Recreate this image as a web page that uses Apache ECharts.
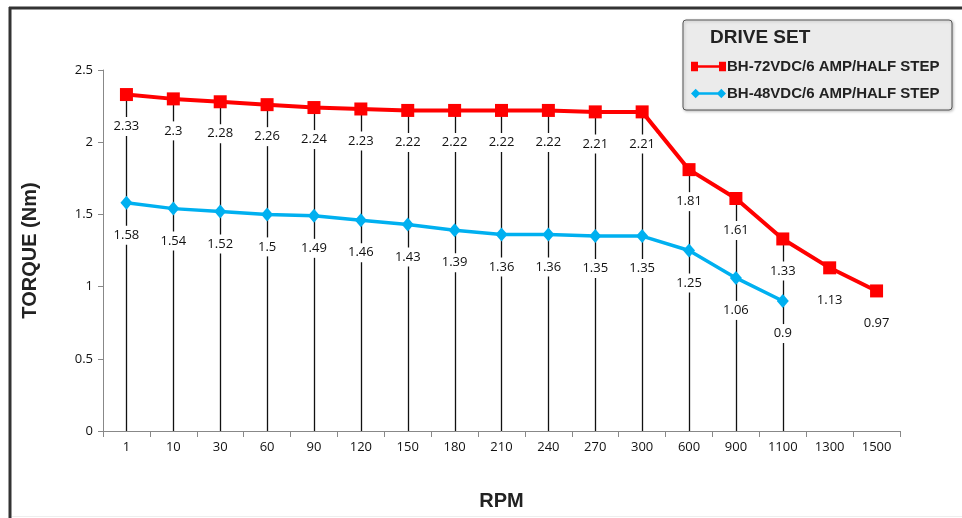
<!DOCTYPE html>
<html>
<head>
<meta charset="utf-8">
<script src="https://cdn.jsdelivr.net/npm/echarts@6/dist/echarts.min.js"></script>
<style>
html,body{margin:0;padding:0;background:#fff;}
#c{width:962px;height:518px;}
</style>
</head>
<body>
<div id="c"></div>
<script>
var categories = ['1','10','30','60','90','120','150','180','210','240','270','300','600','900','1100','1300','1500'];
var red72 = [2.33,2.3,2.28,2.26,2.24,2.23,2.22,2.22,2.22,2.22,2.21,2.21,1.81,1.61,1.33,1.13,0.97];
var blue48 = [1.58,1.54,1.52,1.5,1.49,1.46,1.43,1.39,1.36,1.36,1.35,1.35,1.25,1.06,0.9,null,null];
var yTicks = [0,0.5,1,1.5,2,2.5];
var seriesNames = ['BH-72VDC/6 AMP/HALF STEP','BH-48VDC/6 AMP/HALF STEP'];

var dropData = categories.map(function(c,i){
  if (red72[i] == null || blue48[i] == null) return [i, null];
  return [i, Math.max(red72[i], blue48[i])];
});

var numFont = '"Open Sans", "Noto Sans", sans-serif';
var chart = echarts.init(document.getElementById('c'));
chart.setOption({
  backgroundColor: '#ffffff',
  animation: false,
  grid: {left: 103, right: 62, top: 70, bottom: 87, containLabel: false, outerBoundsMode: 'none'},
  xAxis: {
    type: 'category',
    data: categories,
    boundaryGap: true,
    name: 'RPM',
    nameLocation: 'middle',
    nameGap: 60,
    nameTextStyle: {fontFamily: '"Liberation Sans", Arial, sans-serif', fontWeight: 'bold', fontSize: 20, color: '#222'},
    axisLine: {lineStyle: {color: '#888', width: 1}},
    axisTick: {show: true, alignWithLabel: false, length: 6, lineStyle: {color: '#888'}},
    axisLabel: {color: '#111', fontSize: 13, fontFamily: numFont, margin: 10}
  },
  yAxis: {
    type: 'value',
    min: 0, max: 2.5, interval: 0.5,
    name: 'TORQUE (Nm)',
    nameLocation: 'middle',
    nameGap: 63,
    nameTextStyle: {fontFamily: '"Liberation Sans", Arial, sans-serif', fontWeight: 'bold', fontSize: 20, color: '#222'},
    axisLine: {show: true, lineStyle: {color: '#888', width: 1}},
    axisTick: {show: true, length: 5, lineStyle: {color: '#888'}},
    splitLine: {show: false},
    axisLabel: {color: '#111', fontSize: 13, fontFamily: numFont, margin: 10,
      formatter: function(v){ return yTicks.indexOf(v) >= 0 ? String(v) : ''; }}
  },
  legend: {
    left: 686, top: 54,
    orient: 'vertical',
    itemGap: 12,
    itemWidth: 35, itemHeight: 11,
    data: [
      {name: seriesNames[0], icon: 'path://M0,0 H6 V3 H24 V0 H30 V8 H24 V5 H6 V8 H0 Z'},
      {name: seriesNames[1], icon: 'path://M0,4 L4,0 L7,3 H23 L26,0 L30,4 L26,8 L23,5 H7 L4,8 Z'}
    ],
    textStyle: {fontFamily: '"Liberation Sans", Arial, sans-serif', fontWeight: 'bold', fontSize: 15, color: '#222', padding: [0,0,0,-4]},
    selectedMode: false
  },
  graphic: [
    {type: 'rect', shape: {x: 683, y: 20, width: 269, height: 90, r: 3}, z: -1,
     style: {fill: '#ebebeb', stroke: '#555', lineWidth: 1, shadowBlur: 3, shadowColor: 'rgba(0,0,0,0.25)', shadowOffsetX: 1, shadowOffsetY: 1}},
    {type: 'text', left: 710, top: 28, z: 10,
     style: {text: 'DRIVE SET', fontFamily: '"Liberation Sans", Arial, sans-serif', fontWeight: 'bold', fontSize: 19, fill: '#222'}},
    {type: 'line', shape: {x1: 10, y1: 7, x2: 10, y2: 518}, style: {stroke: '#333', lineWidth: 3}},
    {type: 'line', shape: {x1: 9, y1: 8, x2: 962, y2: 8}, style: {stroke: '#333', lineWidth: 3}},
    {type: 'line', shape: {x1: 12, y1: 516.5, x2: 962, y2: 516.5}, style: {stroke: '#eeeeee', lineWidth: 1}}
  ],
  series: [
    {
      type: 'custom',
      name: 'drop',
      z: 1,
      silent: true,
      data: dropData,
      renderItem: function(params, api){
        var v = api.value(1);
        if (v == null || isNaN(v)) return null;
        var top = api.coord([api.value(0), v]);
        var bot = api.coord([api.value(0), 0]);
        return {type: 'line', shape: {x1: Math.round(top[0])+0.5, y1: top[1], x2: Math.round(bot[0])+0.5, y2: bot[1]},
          style: {stroke: '#111', lineWidth: 1.3}};
      }
    },
    {
      type: 'line',
      name: seriesNames[0],
      data: red72,
      z: 3,
      symbol: 'rect',
      symbolSize: 13,
      itemStyle: {color: '#ff0000'},
      lineStyle: {color: '#ff0000', width: 4},
      label: {show: true, position: 'bottom', distance: 16, color: '#111', fontSize: 13, fontFamily: numFont,
        backgroundColor: '#ffffff', padding: [3,3,3,3]}
    },
    {
      type: 'line',
      name: seriesNames[1],
      data: blue48,
      z: 3,
      symbol: 'diamond',
      symbolSize: [12,14],
      itemStyle: {color: '#00b0f0'},
      lineStyle: {color: '#00b0f0', width: 3.5},
      label: {show: true, position: 'bottom', distance: 16, color: '#111', fontSize: 13, fontFamily: numFont,
        backgroundColor: '#ffffff', padding: [3,3,3,3]}
    }
  ]
});
</script>
</body>
</html>
